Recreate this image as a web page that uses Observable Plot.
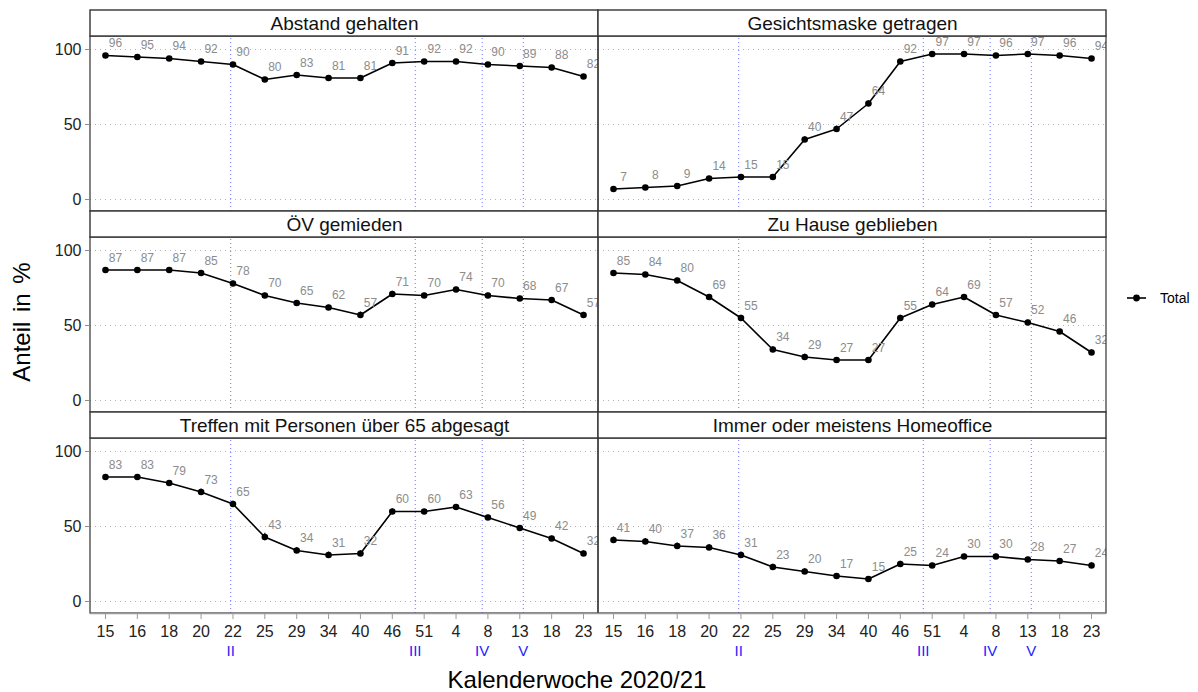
<!DOCTYPE html>
<html>
<head>
<meta charset="utf-8">
<script src="https://cdn.jsdelivr.net/npm/d3@7"></script>
<script src="https://cdn.jsdelivr.net/npm/@observablehq/plot@0.6"></script>
<style>
  body { margin: 0; background: #fff; }
  #chart { width: 1198px; height: 692px; }
</style>
</head>
<body>
<div id="chart"></div>
<script>
// Calendar weeks of the survey waves (2020/21)
const weeks = ["15", "16", "18", "20", "22", "25", "29", "34", "40", "46", "51", "4", "8", "13", "18", "23"];

// Panel titles, in reading order (row by row)
const panels = [
  "Abstand gehalten",
  "Gesichtsmaske getragen",
  "ÖV gemieden",
  "Zu Hause geblieben",
  "Treffen mit Personen über 65 abgesagt",
  "Immer oder meistens Homeoffice"
];

// Share in % per week, one series per panel
const abstand     = [96, 95, 94, 92, 90, 80, 83, 81, 81, 91, 92, 92, 90, 89, 88, 82];
const maske       = [7, 8, 9, 14, 15, 15, 40, 47, 64, 92, 97, 97, 96, 97, 96, 94];
const oev         = [87, 87, 87, 85, 78, 70, 65, 62, 57, 71, 70, 74, 70, 68, 67, 57];
const zuHause     = [85, 84, 80, 69, 55, 34, 29, 27, 27, 55, 64, 69, 57, 52, 46, 32];
const treffen     = [83, 83, 79, 73, 65, 43, 34, 31, 32, 60, 60, 63, 56, 49, 42, 32];
const homeoffice  = [41, 40, 37, 36, 31, 23, 20, 17, 15, 25, 24, 30, 30, 28, 27, 24];

// Half-width of the confidence interval per week
const abstandCi    = [1, 1, 1, 1, 1, 1.2, 1.2, 1.2, 1.2, 1, 1, 1, 1, 1, 1, 1.2];
const maskeCi      = [1, 1, 1, 1, 1.2, 1.2, 1.8, 2, 1.8, 1, 0.8, 0.8, 0.8, 0.8, 0.8, 1];
const oevCi        = [1.2, 1.2, 1.2, 1.2, 1.5, 1.5, 1.5, 1.5, 2, 1.8, 1.5, 1.5, 1.5, 1.5, 1.5, 1.8];
const zuHauseCi    = [1.2, 1.2, 1.5, 1.5, 1.8, 1.8, 1.8, 1.5, 1.5, 1.8, 1.5, 1.5, 1.5, 1.5, 1.5, 1.8];
const treffenCi    = [1.5, 1.5, 1.5, 2, 1.8, 2.5, 2, 2, 1.8, 1.8, 1.5, 1.5, 1.5, 1.5, 1.5, 1.8];
const homeofficeCi = [2, 2, 2, 2, 2, 1.8, 1.8, 1.5, 1.5, 1.8, 1.5, 1.5, 1.5, 1.5, 1.5, 1.8];

// Start of the lockdown phases, on the week axis (index units)
const phases   = ["II", "III", "IV", "V"];
const phaseAt  = [3.93, 9.72, 11.82, 13.11];

const series = [abstand, maske, oev, zuHause, treffen, homeoffice];
const cis = [abstandCi, maskeCi, oevCi, zuHauseCi, treffenCi, homeofficeCi];

// Long table for the faceted marks
const rows = [];
series.forEach((vals, k) => {
  vals.forEach((v, i) => {
    rows.push({panel: panels[k], col: k % 2, row: Math.floor(k / 2), i, v, ci: cis[k][i]});
  });
});
const panelCells = panels.map((name, k) => ({name, col: k % 2, row: Math.floor(k / 2)}));
const bottomCells = panelCells.filter(d => d.row === 2);
const phaseLabels = bottomCells.flatMap(c => phases.map((p, j) => ({...c, p, x: phaseAt[j]})));

// Each facet holds the panel plus its title strip above it
const X0 = -0.47, X1 = weeks.length - 1 + 0.47;
const Y0 = -8, PANEL_TOP = 326 / 3, STRIP_TOP = 126;

const plot = Plot.plot({
  width: 1198,
  height: 692,
  marginTop: 10,
  marginBottom: 79,
  marginLeft: 90,
  marginRight: 92,
  facet: {marginTop: 0, marginRight: 0, marginBottom: 0, marginLeft: 0},
  fx: {domain: [0, 1], padding: 0, axis: null, label: null},
  fy: {domain: [0, 1, 2], padding: 0, axis: null, label: null},
  x: {domain: [X0, X1]},
  y: {domain: [Y0, STRIP_TOP]},
  style: {fontFamily: "'Liberation Sans', Arial, sans-serif", background: "#fff"},
  marks: [
    // panel background
    Plot.rect(panelCells, {x1: X0, x2: X1, y1: Y0, y2: PANEL_TOP, fx: "col", fy: "row", fill: "white"}),
    // horizontal grid
    Plot.ruleY([0, 50, 100], {stroke: "#b3b3b3", strokeWidth: 1, strokeDasharray: "1,4"}),
    // phase markers
    Plot.ruleX(phaseAt, {x: d => d, y1: Y0, y2: PANEL_TOP, stroke: "#4a4aff", strokeWidth: 1, strokeDasharray: "1,3", strokeOpacity: 0.8}),
    // series
    Plot.line(rows, {x: "i", y: "v", z: "panel", fx: "col", fy: "row", stroke: "#000", strokeWidth: 1.6}),
    // confidence intervals
    Plot.ruleX(rows, {x: "i", y1: d => d.v - d.ci, y2: d => d.v + d.ci, fx: "col", fy: "row", stroke: "#222", strokeWidth: 1.3}),
    Plot.dot(rows, {x: "i", y: "v", fx: "col", fy: "row", r: 3.3, fill: "#000", stroke: "none"}),
    // value labels
    Plot.text(rows, {x: "i", y: "v", fx: "col", fy: "row", text: d => String(d.v), dx: 10, dy: -12,
      fill: "#8c8c8c", fontSize: 12, clip: true}),
    // panel frame
    Plot.rect(panelCells, {x1: X0, x2: X1, y1: Y0, y2: PANEL_TOP, fx: "col", fy: "row", fill: "none", stroke: "#333", strokeWidth: 1.2}),
    // x axis line
    Plot.ruleY(bottomCells, {y: Y0, fx: "col", fy: "row", stroke: "#9a9a9a", strokeWidth: 1.6}),
    // title strips
    Plot.rect(panelCells, {x1: X0, x2: X1, y1: PANEL_TOP, y2: STRIP_TOP, fx: "col", fy: "row", fill: "white", stroke: "#333", strokeWidth: 1.4}),
    Plot.text(panelCells, {x: (X0 + X1) / 2, y: (PANEL_TOP + STRIP_TOP) / 2, text: "name", fx: "col", fy: "row",
      fill: "#111", fontSize: 19}),
    // axes
    Plot.axisY({ticks: [0, 50, 100], facetAnchor: "left", anchor: "left", tickSize: 5, tickPadding: 4,
      stroke: "#8c8c8c", fill: "#222", fontSize: 16, label: null}),
    Plot.axisX({ticks: d3.range(weeks.length), tickFormat: i => weeks[i], facetAnchor: "bottom", anchor: "bottom",
      tickSize: 6, tickPadding: 6, stroke: "#9a9a9a", fill: "#222", fontSize: 16, label: null}),
    // phase labels below the week axis
    Plot.text(phaseLabels, {x: "x", fx: "col", fy: "row", frameAnchor: "bottom", dy: 42, text: "p",
      fill: "#2222ff", fontSize: 15})
  ]
});

const svg = d3.select(plot);
const font = "'Liberation Sans', Arial, sans-serif";

// axis titles
svg.append("text")
  .attr("transform", "translate(30,322) rotate(-90)")
  .attr("text-anchor", "middle")
  .attr("font-family", font).attr("font-size", 24).attr("fill", "#000")
  .attr("word-spacing", 3)
  .text("Anteil in %");
svg.append("text")
  .attr("x", 577).attr("y", 688)
  .attr("text-anchor", "middle")
  .attr("font-family", font).attr("font-size", 24).attr("fill", "#000")
  .text("Kalenderwoche 2020/21");

// legend
const lg = svg.append("g").attr("transform", "translate(1127,298)");
lg.append("line").attr("x1", 0).attr("x2", 19).attr("y1", 0).attr("y2", 0).attr("stroke", "#000").attr("stroke-width", 1.6);
lg.append("circle").attr("cx", 9.5).attr("cy", 0).attr("r", 3.4).attr("fill", "#000");
lg.append("text").attr("x", 33).attr("y", 0).attr("dy", "0.35em")
  .attr("text-anchor", "start")
  .attr("font-family", font).attr("font-size", 14).attr("fill", "#000").text("Total");

document.getElementById("chart").appendChild(plot);
</script>
</body>
</html>
